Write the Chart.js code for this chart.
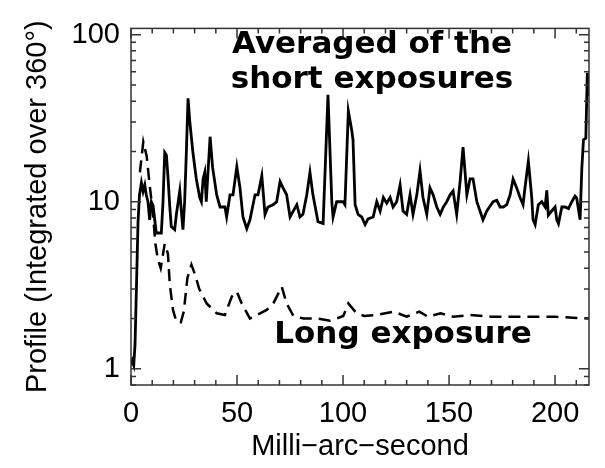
<!DOCTYPE html>
<html>
<head>
<meta charset="utf-8">
<script src="https://cdn.jsdelivr.net/npm/chart.js@4"></script>
<style>
  html, body { margin: 0; padding: 0; background: #fff; }
</style>
</head>
<body>
<canvas id="profileChart" width="605" height="468"></canvas>
<script>
// Averaged of the short exposures (solid)
const shortX = [0, 0.6, 1.3, 1.9, 2.6, 3.3, 4.0, 4.9, 5.7, 6.5, 7.2, 8.0, 8.8, 9.6, 10.4, 11.2, 11.9, 13.5, 14.3, 15.1,
    15.9, 16.7, 17.5, 18.3, 19.0, 20.6, 21.4, 23.0, 23.7, 24.5, 25.3, 26.1, 26.9, 27.7, 29.2, 30.8, 32.4, 33.2, 34.0, 34.8,
    35.5, 37.3, 38.5, 40.4, 42.0, 44.3, 45.1, 46.7, 48.1, 49.9, 51.4, 52.8, 54.6, 56.1, 58.5, 59.9, 61.7, 63.2, 64.6, 67.0,
    68.7, 70.3, 71.7, 73.4, 75.0, 78.2, 79.7, 81.1, 82.9, 84.4, 85.8, 88.2, 90.6, 92.9, 94.7, 95.3, 97.0, 100.0, 100.9, 102.5,
    104.1, 104.7, 105.7, 107.1, 108.8, 110.4, 111.8, 114.2, 115.9, 117.5, 119.0, 120.6, 122.2, 123.6, 125.3, 126.9, 128.3, 130.0, 131.6, 133.0,
    134.8, 136.3, 137.7, 139.5, 141.0, 142.5, 144.2, 145.8, 147.3, 148.9, 150.5, 151.9, 153.6, 155.2, 156.6, 158.4, 159.9, 161.3, 163.1, 164.6,
    166.0, 167.8, 169.3, 170.8, 172.5, 174.1, 175.6, 177.2, 178.8, 180.2, 181.9, 183.5, 184.9, 185.8, 187.4, 189.0, 189.6, 190.6, 192.1, 193.7,
    195.3, 196.1, 196.8, 198.4, 200.0, 200.8, 201.6, 203.2, 204.7, 206.3, 207.9, 209.4, 210.2, 211.8, 212.6, 213.4, 214.5, 215.2, 216.2];
const shortY = [1.05, 1.12, 1.05, 1.4, 3.2, 7.5, 11, 13, 11.5, 12.6, 11, 10, 7.8, 10, 9.5, 7.8, 6.5, 6.5, 6.5, 10,
    19.7, 19, 13.7, 9.3, 7.1, 6.8, 8.4, 11.6, 8.9, 6.8, 10, 19.7, 41.6, 30.5, 19.7, 13.7, 10.6, 10, 13.7, 15,
    10, 24.5, 16, 11, 9.3, 9.3, 8.1, 11, 11, 16.2, 12.1, 8.1, 6.9, 7.8, 11, 11, 14.3, 8.4, 9.3, 9.6,
    10, 13.2, 12.1, 11, 8.1, 9.6, 8.1, 8.4, 11, 15, 11, 7.6, 7.4, 43.7, 10, 8.1, 10, 10, 9.6, 34.9,
    26.8, 23.5, 9.6, 8.4, 8.1, 7.3, 7.9, 8.1, 10, 8.8, 10.6, 9.8, 10.6, 9.3, 10, 12.6, 8.8, 8.4, 11, 8.4,
    11, 15.3, 10.6, 8.4, 12.1, 11, 9.3, 8.4, 9.3, 10, 11, 11.6, 8.4, 13.2, 21.2, 11, 13.7, 13.7, 10, 8.8,
    7.8, 8.8, 9.4, 10, 10.2, 9.3, 9.3, 9.6, 11, 13.7, 12.1, 10.6, 9.6, 12.1, 17.5, 10.6, 7.8, 7.3, 9.6, 10,
    9.3, 11.7, 8.3, 8.8, 9.3, 7.8, 7.4, 9.3, 9.3, 9.1, 10, 10.8, 10.5, 7.8, 15.7, 23.5, 24, 59, 43];

// Long exposure (dashed)
const longX = [4.2, 5.8, 7.4, 8.8, 10.4, 11.5, 12.7, 14.0, 15.9, 17.4, 18.3, 19.8, 21.5, 23.5, 24.9, 26.6, 28.5, 30.4, 32.2, 35.7,
    40.4, 44.3, 47.5, 49.9, 52.2, 56.1, 59.3, 64.0, 67.1, 71.1, 73.4, 76.6, 81.3, 87.6, 93.9, 100.1, 102.5, 106.4, 110, 116,
    124, 130, 136, 140, 146, 152, 160, 170, 180, 190, 200, 216];
const longY = [15, 22.8, 18.7, 12.6, 8.4, 5.6, 4.5, 4.0, 5.6, 4.9, 3.2, 2.25, 1.9, 1.9, 2.2, 3.5, 4.2, 3.6, 3.0, 2.46,
    2.15, 2.1, 2.7, 2.9, 2.46, 2.0, 2.1, 2.25, 2.46, 3.1, 2.46, 2.07, 2.0, 2.0, 1.94, 2.07, 2.46, 2.15, 2.07, 2.1,
    2.2, 2.05, 2.2, 2.05, 2.15, 2.05, 2.1, 2.05, 2.05, 2.05, 2.05, 2.0];

const xTickValues = [0, 50, 100, 150, 200];
const yTickValues = [1, 10, 100];

const labelFont = 'Liberation Sans, Arial, Helvetica, sans-serif';
const noteFont = 'DejaVu Sans, Verdana, sans-serif';

// IDL-style box with inward ticks + the two text notes
const framePlugin = {
    id: 'frame',
    afterDatasetsDraw(chart) {
        const { ctx, chartArea: a, scales: { x, y } } = chart;
        ctx.save();
        ctx.strokeStyle = '#333';
        ctx.lineWidth = 1.5;
        ctx.strokeRect(a.left, a.top, a.width, a.height);

        ctx.beginPath();
        for (let v = 0; v <= x.max; v += 10) {
            const px = x.getPixelForValue(v);
            const len = v % 50 === 0 ? 10 : 5;
            ctx.moveTo(px, a.bottom); ctx.lineTo(px, a.bottom - len);
            ctx.moveTo(px, a.top); ctx.lineTo(px, a.top + len);
        }
        for (let dec = 0.1; dec <= 100; dec *= 10) {
            for (let m = 1; m <= 9; m++) {
                const v = dec * m;
                if (v < y.min || v > y.max) continue;
                const py = y.getPixelForValue(v);
                const len = m === 1 ? 10 : 5;
                ctx.moveTo(a.left, py); ctx.lineTo(a.left + len, py);
                ctx.moveTo(a.right, py); ctx.lineTo(a.right - len, py);
            }
        }
        ctx.stroke();

        ctx.fillStyle = '#000';
        ctx.font = 'bold 31px ' + noteFont;
        ctx.textAlign = 'center';
        ctx.textBaseline = 'alphabetic';
        ctx.fillText('Averaged of the', 372, 53);
        ctx.fillText('short exposures', 372, 88);
        ctx.fillText('Long exposure', 403, 343);
        ctx.restore();
    }
};

const ctx = document.getElementById('profileChart');
new Chart(ctx, {
    type: 'line',
    data: {
        datasets: [
            {
                label: 'Averaged of the short exposures',
                data: shortX.map((v, i) => ({ x: v, y: shortY[i] })),
                borderColor: '#000',
                borderWidth: 2.8,
                pointRadius: 0,
                tension: 0
            },
            {
                label: 'Long exposure',
                data: longX.map((v, i) => ({ x: v, y: longY[i] })),
                borderColor: '#000',
                borderWidth: 2.5,
                borderDash: [12, 7],
                pointRadius: 0,
                tension: 0
            }
        ]
    },
    options: {
        responsive: false,
        animation: false,
        layout: {
            padding: { top: 14, right: 16, left: 0, bottom: 0 }
        },
        plugins: {
            legend: { display: false },
            tooltip: { enabled: false }
        },
        scales: {
            x: {
                type: 'linear',
                min: 0,
                max: 216,
                grid: { display: false, drawTicks: false },
                border: { display: false },
                afterBuildTicks: axis => { axis.ticks = xTickValues.map(v => ({ value: v })); },
                afterFit: axis => { axis.height = 83; },
                ticks: {
                    color: '#000',
                    padding: 12,
                    maxRotation: 0,
                    font: { family: labelFont, size: 29 },
                    callback: value => String(value)
                },
                title: {
                    display: true,
                    text: 'Milli\u2212arc\u2212second',
                    color: '#000',
                    padding: { top: 0, bottom: 4 },
                    font: { family: labelFont, size: 29 }
                }
            },
            y: {
                type: 'logarithmic',
                min: 0.8,
                max: 109,
                grid: { display: false, drawTicks: false },
                border: { display: false },
                afterBuildTicks: axis => { axis.ticks = yTickValues.map(v => ({ value: v })); },
                afterFit: axis => { axis.width = 131; },
                ticks: {
                    color: '#000',
                    padding: 11,
                    autoSkip: false,
                    font: { family: labelFont, size: 29 },
                    callback: value => String(value)
                },
                title: {
                    display: true,
                    text: 'Profile (Integrated over 360\u00b0)',
                    color: '#000',
                    padding: { top: 21, bottom: 0 },
                    font: { family: labelFont, size: 29 }
                }
            }
        }
    },
    plugins: [framePlugin]
});
</script>
</body>
</html>
